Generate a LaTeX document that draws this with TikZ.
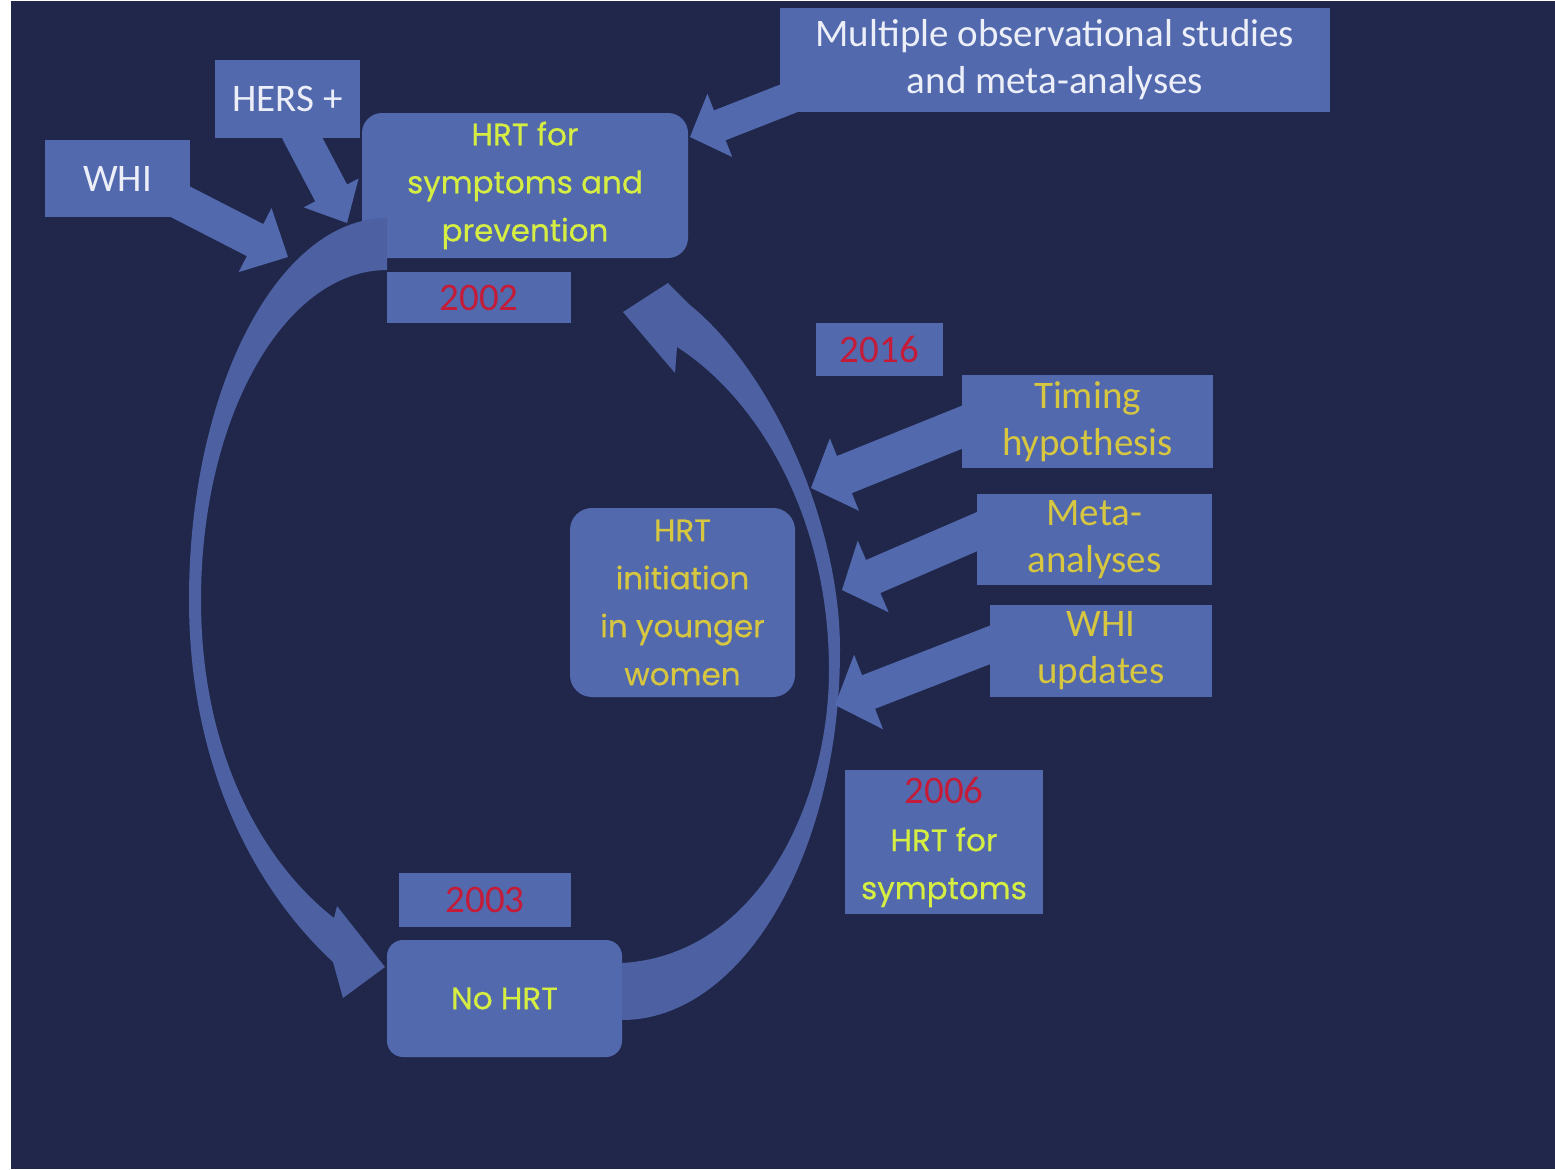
\documentclass[tikz,border=0pt]{standalone}
\usepackage{fontspec}
\setmainfont{Carlito}
\newfontfamily\geo[FakeBold=0.5]{Poppins}
\usetikzlibrary{calc}
\definecolor{bgnavy}{RGB}{32,39,74}
\definecolor{boxblue}{RGB}{82,105,174}
\definecolor{arcblue}{RGB}{76,96,162}
\definecolor{limetxt}{RGB}{214,238,66}
\definecolor{ochretxt}{RGB}{214,198,64}
\definecolor{yred}{RGB}{196,28,56}
\definecolor{wtxt}{RGB}{236,239,248}
\newcommand{\blockarr}[5]{%
  \coordinate (hb) at ($(#2)!#5!(#1)$);
  \fill[arrowfill] ($(#1)!#3!90:(#2)$) -- ($(hb)!#3!-90:(#1)$) -- ($(hb)!#4!-90:(#1)$) -- (#2)
     -- ($(hb)!#4!90:(#1)$) -- ($(hb)!#3!90:(#1)$) -- ($(#1)!#3!-90:(#2)$) -- cycle;
}
\begin{document}
\begin{tikzpicture}[x=0.5pt,y=-0.5pt,
  box/.style={fill=boxblue, inner sep=0pt, align=center},
  rbox/.style={box, rounded corners=#1},
  wfont/.style={text=wtxt, font=\fontsize{19.5}{23.5}\selectfont},
  ofont/.style={text=ochretxt, font=\fontsize{19.5}{23.5}\selectfont},
  gfont/.style={text=limetxt, font=\geo\fontsize{15.5}{24}\selectfont},
  iofont/.style={text=ochretxt, font=\geo\fontsize{15.5}{24}\selectfont},
  yfont/.style={text=yred, font=\fontsize{19.5}{23.5}\selectfont},
  arrowfill/.style={fill=boxblue},
  arcfill/.style={fill=arcblue}]
\useasboundingbox (0,0) rectangle (1555,1169);
\fill[white] (0,0) rectangle (1555,1169);
\fill[bgnavy] (11,1) rectangle (1555,1169);

% boxes
\node[box, wfont, minimum width=72.5pt, minimum height=38.5pt] (whi) at (117.5,178.5) {WHI};
\node[box, wfont, minimum width=72.5pt, minimum height=39pt] (hers) at (287.5,99) {HERS +};
\node[rbox=10pt, gfont, minimum width=163pt, minimum height=72.5pt] (hrt) at (525,185.5) {HRT for\\symptoms and\\prevention};
\node[box, yfont, minimum width=92pt, minimum height=25.5pt] (y2002) at (479,297.5) {2002};
\node[box, wfont, minimum width=275pt, minimum height=52pt] (multi) at (1055,60) {Multiple observational studies\\and meta-analyses};
\node[box, yfont, minimum width=63.5pt, minimum height=26.5pt] (y2016) at (879.5,349.5) {2016};
\node[box, ofont, minimum width=125.5pt, minimum height=46.5pt] (timing) at (1087.5,421.5) {Timing\\hypothesis};
\node[box, ofont, minimum width=117.5pt, minimum height=45.5pt] (meta) at (1094.5,539.5) {Meta-\\analyses};
\node[box, ofont, minimum width=111pt, minimum height=46pt] (whiup) at (1101,651) {WHI\\updates};
\node[rbox=11pt, iofont, minimum width=112.5pt, minimum height=94.5pt] (init) at (682.5,602.5) {HRT\\initiation\\in younger\\women};
\node[box, gfont, minimum width=99pt, minimum height=72pt] (y2006) at (944,842) {{\normalfont\fontsize{19.5}{24}\selectfont\color{yred}2006}\\HRT for\\symptoms};
\node[box, yfont, minimum width=86pt, minimum height=27pt] (y2003) at (485,900) {2003};
\node[rbox=8pt, gfont, minimum width=117.5pt, minimum height=58.5pt] (nohrt) at (504.5,998.5) {No HRT};

% curved arrows
\fill[arcfill] (387,218) .. controls (278,218) and (189,389) .. (189,600)
  .. controls (189,760) and (250,885) .. (333,962)
  -- (343,998) -- (385,967) -- (337,906) -- (334,918)
  .. controls (260,860) and (201,750) .. (201,600)
  .. controls (201,418) and (284,270) .. (387,270) -- cycle;
\fill[arcfill] (622,1020) .. controls (742,1020) and (840,854) .. (840,650)
  .. controls (840,520) and (770,370) .. (690,305)
  -- (668,283) -- (623,312) -- (675,373) -- (677,347)
  .. controls (760,400) and (829,520) .. (829,670)
  .. controls (829,800) and (760,955) .. (622,963) -- cycle;

% straight block arrows
\coordinate (whiS) at (175,199);   \coordinate (whiT) at (288,257);
\coordinate (hersS) at (298,130);  \coordinate (hersT) at (347,223);
\coordinate (multiS) at (810,90);  \coordinate (multiT) at (690,137);
\coordinate (timS) at (975,422);   \coordinate (timT) at (811,488);
\coordinate (metaS) at (990,526);  \coordinate (metaT) at (842,590);
\coordinate (whiuS) at (1000,641); \coordinate (whiuT) at (835,705);
\blockarr{whiS}{whiT}{9pt}{18pt}{18.5pt}
\blockarr{hersS}{hersT}{9pt}{15.5pt}{17pt}
\blockarr{multiS}{multiT}{8pt}{17pt}{16pt}
\blockarr{timS}{timT}{10pt}{19.5pt}{18pt}
\blockarr{metaS}{metaT}{9pt}{19.5pt}{17pt}
\blockarr{whiuS}{whiuT}{9pt}{20pt}{18pt}
\end{tikzpicture}
\end{document}
